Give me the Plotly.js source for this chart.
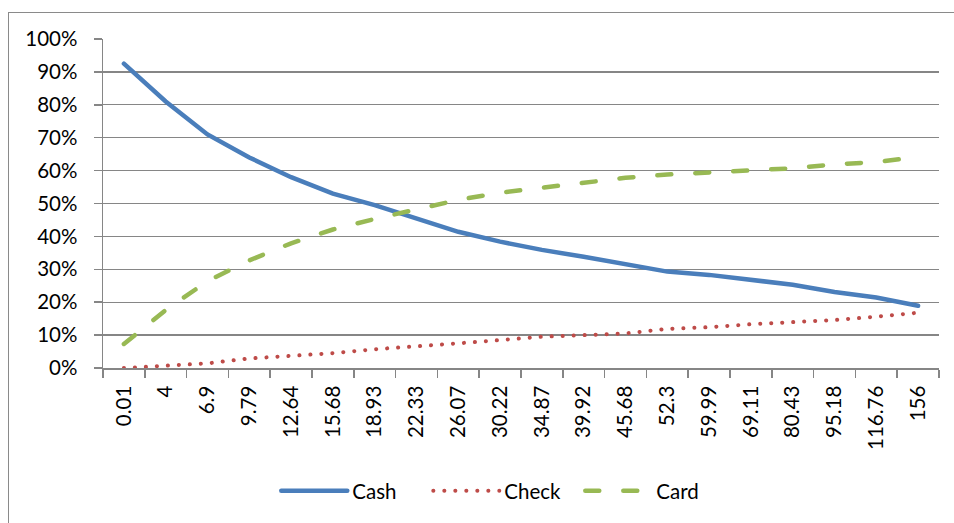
<!DOCTYPE html>
<html>
<head>
<meta charset="utf-8">
<script src="https://cdn.plot.ly/plotly-3.0.1.min.js"></script>
<style>
  html, body { margin: 0; padding: 0; background: #fff; }
  #wrap { position: relative; width: 954px; height: 523px; }
  #chart { position: absolute; left: 0; top: 0; width: 954px; height: 523px; }
  #frame { position: absolute; left: 8px; top: 12px; width: 946px; height: 511px;
           border-top: 1.5px solid #8a8a8a; border-left: 1.5px solid #8a8a8a; pointer-events: none; }
  .scatterlayer .js-line, .legendlines .js-line { stroke-linecap: round; }
</style>
</head>
<body>
<div id="wrap">
  <div id="chart"></div>
  <div id="frame"></div>
</div>
<script>
const categories = ["0.01","4","6.9","9.79","12.64","15.68","18.93","22.33","26.07","30.22",
                    "34.87","39.92","45.68","52.3","59.99","69.11","80.43","95.18","116.76","156"];
const cash  = [0.925,0.810,0.710,0.640,0.580,0.530,0.495,0.455,0.414,0.384,
               0.359,0.338,0.316,0.293,0.283,0.267,0.253,0.231,0.214,0.189];
const check = [0.000,0.007,0.014,0.029,0.036,0.045,0.057,0.065,0.075,0.085,
               0.095,0.100,0.105,0.119,0.124,0.133,0.138,0.146,0.156,0.168];
const card  = [0.073,0.176,0.264,0.327,0.379,0.421,0.453,0.482,0.511,0.533,
               0.548,0.563,0.578,0.588,0.594,0.600,0.607,0.619,0.626,0.642];
const seriesNames = ["Cash","Check","Card"];

const FONT = "Lato, 'Open Sans', sans-serif";
const FS = 20.5;

const traces = [
  {x: categories, y: cash, name: seriesNames[0], type: "scatter", mode: "lines",
   line: {color: "#4a7ebb", width: 4.5}},
  {x: categories, y: check, name: seriesNames[1], type: "scatter", mode: "lines",
   line: {color: "#be4b48", width: 4, dash: "0.1px,10.9px"}},
  {x: categories, y: card, name: seriesNames[2], type: "scatter", mode: "lines",
   line: {color: "#98b954", width: 4.5, dash: "14px,24px"}}
];

const layout = {
  width: 954, height: 523,
  margin: {l: 103, r: 15, t: 39, b: 155},
  paper_bgcolor: "#ffffff", plot_bgcolor: "#ffffff",
  font: {family: FONT, size: FS, color: "#000"},
  showlegend: true,
  legend: {orientation: "h", x: 0.48, xanchor: "center", y: -0.374, yanchor: "middle",
           font: {family: FONT, size: FS, color: "#000"}, itemwidth: 66,
           entrywidth: 71, traceorder: "normal"},
  xaxis: {type: "category", range: [-0.5, categories.length - 0.5],
          tickangle: -90, tickson: "boundaries", ticks: "outside",
          ticklen: 8, tickcolor: "#868686", tickwidth: 1.5, ticklabelstandoff: 8,
          showline: true, linecolor: "#868686", linewidth: 1.5,
          showgrid: false, zeroline: false, automargin: false,
          tickfont: {family: FONT, size: FS, color: "#000"}},
  yaxis: {range: [0, 1], dtick: 0.1, tick0: 0, tickformat: ".0%", ticks: "outside",
          ticklen: 8, tickcolor: "#868686", tickwidth: 1.5,
          showline: true, linecolor: "#868686", linewidth: 1.5,
          showgrid: true, gridcolor: "#868686", gridwidth: 1.3,
          zeroline: false, automargin: false, ticklabelstandoff: 12,
          tickfont: {family: FONT, size: FS, color: "#000"}}
};

Plotly.newPlot("chart", traces, layout, {displayModeBar: false, staticPlot: true});
</script>
</body>
</html>
